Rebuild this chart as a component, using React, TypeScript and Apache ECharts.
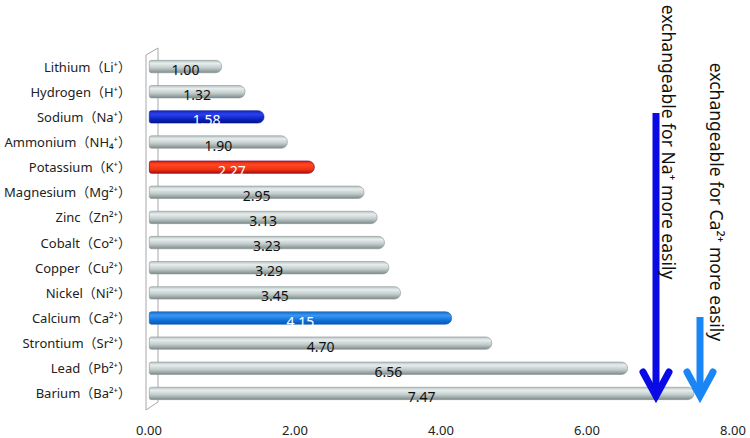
import React, { useEffect, useRef } from "react";
import * as echarts from "echarts";

const categories = [
  "Lithium（Li⁺）",
  "Hydrogen（H⁺）",
  "Sodium（Na⁺）",
  "Ammonium（NH₄⁺）",
  "Potassium（K⁺）",
  "Magnesium（Mg²⁺）",
  "Zinc（Zn²⁺）",
  "Cobalt（Co²⁺）",
  "Copper（Cu²⁺）",
  "Nickel（Ni²⁺）",
  "Calcium（Ca²⁺）",
  "Strontium（Sr²⁺）",
  "Lead（Pb²⁺）",
  "Barium（Ba²⁺）",
];
const values = [1.0, 1.32, 1.58, 1.9, 2.27, 2.95, 3.13, 3.23, 3.29, 3.45, 4.15, 4.7, 6.56, 7.47];
const highlight: Record<string, string> = {
  "Sodium（Na⁺）": "sodium",
  "Potassium（K⁺）": "potassium",
  "Calcium（Ca²⁺）": "calcium",
};
const arrowTexts = ["exchangeable for Na⁺ more easily", "exchangeable for Ca²⁺ more easily"];

const FONT = "'Noto Sans', 'Noto Sans CJK SC', sans-serif";

function grad(stops: [number, string][]) {
  return new echarts.graphic.LinearGradient(
    0, 0, 0, 1,
    stops.map(([offset, color]) => ({ offset, color }))
  );
}

const styles: Record<string, any> = {
  grey: {
    color: grad([[0, "#b9c3c3"], [0.25, "#e6eded"], [0.6, "#c3cdcc"], [1, "#7f8b8b"]]),
    borderColor: "#8a9494",
    borderWidth: 0.6,
  },
  sodium: {
    color: grad([[0, "#1426c8"], [0.3, "#2a40ea"], [0.7, "#0a22c0"], [1, "#031488"]]),
    borderColor: "#061a90",
    borderWidth: 0.6,
  },
  potassium: {
    color: grad([[0, "#e02010"], [0.3, "#ff4a20"], [0.7, "#f03010"], [1, "#b01008"]]),
    borderColor: "#7a1050",
    borderWidth: 0.8,
  },
  calcium: {
    color: grad([[0, "#1a70d0"], [0.3, "#3a96f0"], [0.7, "#1070d8"], [1, "#0a58b0"]]),
    borderColor: "#0a5aa8",
    borderWidth: 0.6,
  },
};

export default function App() {
  const ref = useRef<HTMLDivElement>(null);
  useEffect(() => {
    if (!ref.current) return;
    const chart = echarts.init(ref.current, undefined, { renderer: "svg" });
    const data = values.map((v, i) => {
      const key = highlight[categories[i]] || "grey";
      return {
        value: v,
        itemStyle: { ...styles[key], borderRadius: [2, 6, 6, 2] },
        label: { color: key === "grey" ? "#111" : "#ffffff" },
      };
    });
    const wall = "#a8a8a8";
    chart.setOption({
      animation: false,
      backgroundColor: "#ffffff",
      grid: {
        left: 149,
        right: 17,
        top: 54,
        bottom: 32,
        containLabel: false,
        outerBoundsMode: "none",
      },
      xAxis: {
        type: "value",
        min: 0,
        max: 8,
        interval: 2,
        axisLine: { show: false },
        axisTick: { show: false },
        splitLine: { show: false },
        axisLabel: {
          margin: 17,
          color: "#222",
          fontSize: 13,
          fontFamily: FONT,
          formatter: (v: number) => v.toFixed(2),
        },
      },
      yAxis: {
        type: "category",
        data: categories,
        inverse: true,
        axisLine: { show: false },
        axisTick: { show: false },
        axisLabel: { margin: 18, color: "#222", fontSize: 13, fontFamily: FONT },
      },
      series: [
        {
          type: "bar",
          data,
          barWidth: 13,
          label: {
            show: true,
            position: "inside",
            offset: [0, 3],
            fontSize: 14,
            fontFamily: FONT,
            formatter: (p: any) => Number(p.value).toFixed(2),
          },
        },
      ],
      graphic: [
        {
          type: "polyline",
          z: 1,
          shape: { points: [[146, 410], [146, 55], [158, 48], [158, 402], [146, 410]] },
          style: { stroke: wall, lineWidth: 1, fill: "none" },
        },
        {
          type: "line",
          z: 100,
          shape: { x1: 656, y1: 113, x2: 656, y2: 396 },
          style: { stroke: "#0a0ae6", lineWidth: 7 },
        },
        {
          type: "polyline",
          z: 100,
          shape: { points: [[643, 372], [656, 396], [669, 372]] },
          style: { stroke: "#0a0ae6", lineWidth: 7, fill: "none", lineJoin: "miter", lineCap: "round" },
        },
        {
          type: "line",
          z: 100,
          shape: { x1: 700, y1: 317, x2: 700, y2: 396 },
          style: { stroke: "#1a86f5", lineWidth: 7 },
        },
        {
          type: "polyline",
          z: 100,
          shape: { points: [[687, 372], [700, 396], [713, 372]] },
          style: { stroke: "#1a86f5", lineWidth: 7, fill: "none", lineJoin: "miter", lineCap: "round" },
        },
        {
          type: "text",
          z: 100,
          x: 669,
          y: 142,
          rotation: -Math.PI / 2,
          style: {
            text: arrowTexts[0],
            fill: "#111",
            fontSize: 17.5,
            fontFamily: FONT,
            align: "center",
            verticalAlign: "middle",
          },
        },
        {
          type: "text",
          z: 100,
          x: 717,
          y: 202,
          rotation: -Math.PI / 2,
          style: {
            text: arrowTexts[1],
            fill: "#111",
            fontSize: 17.5,
            fontFamily: FONT,
            align: "center",
            verticalAlign: "middle",
          },
        },
      ],
    });
    return () => chart.dispose();
  }, []);
  return (
    <div
      ref={ref}
      style={{ position: "fixed", left: 0, top: 0, width: 750, height: 438, background: "#fff" }}
    />
  );
}
